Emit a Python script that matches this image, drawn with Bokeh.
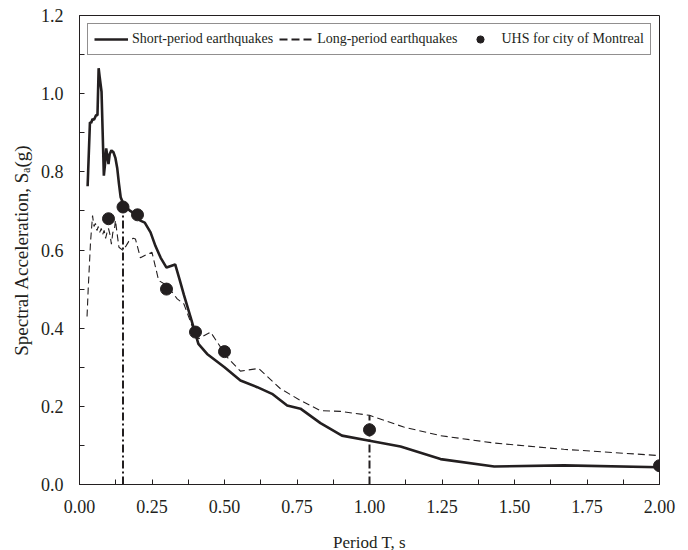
from bokeh.plotting import figure
from bokeh.models import (Range1d, FixedTicker, NumeralTickFormatter,
                          Legend, LegendItem)
from bokeh.embed import file_html
from bokeh.resources import INLINE

# ---------------- data ----------------
short_T = [0.028, 0.036, 0.040, 0.045, 0.050, 0.057, 0.062, 0.066, 0.070, 0.076,
           0.084, 0.088, 0.092, 0.096, 0.100, 0.104, 0.110, 0.117, 0.124, 0.130,
           0.136, 0.142, 0.150, 0.160, 0.175, 0.195, 0.210, 0.225, 0.245, 0.262,
           0.280, 0.300, 0.330, 0.345, 0.360, 0.383, 0.400, 0.410, 0.440, 0.500,
           0.555, 0.613, 0.664, 0.716, 0.762, 0.831, 0.905, 1.000, 1.107, 1.245,
           1.430, 1.670, 2.000]
short_Sa = [0.763, 0.927, 0.925, 0.935, 0.933, 0.945, 0.945, 1.065, 1.040, 1.005,
            0.790, 0.820, 0.860, 0.840, 0.820, 0.845, 0.855, 0.850, 0.835, 0.810,
            0.770, 0.735, 0.720, 0.710, 0.700, 0.690, 0.675, 0.670, 0.645, 0.610,
            0.580, 0.555, 0.563, 0.525, 0.485, 0.428, 0.385, 0.360, 0.334, 0.300,
            0.266, 0.249, 0.232, 0.202, 0.194, 0.157, 0.125, 0.112, 0.097, 0.065,
            0.046, 0.049, 0.044]

long_T = [0.026, 0.030, 0.038, 0.045, 0.050, 0.055, 0.060, 0.065, 0.070, 0.075,
          0.080, 0.085, 0.090, 0.095, 0.100, 0.105, 0.110, 0.115, 0.120, 0.124,
          0.130, 0.136, 0.150, 0.160, 0.170, 0.185, 0.193, 0.210, 0.230, 0.250,
          0.273, 0.302, 0.337, 0.360, 0.394, 0.411, 0.452, 0.509, 0.555, 0.618,
          0.693, 0.762, 0.831, 0.900, 1.000, 1.118, 1.245, 1.430, 1.670, 2.000]
long_Sa = [0.430, 0.500, 0.620, 0.688, 0.660, 0.668, 0.650, 0.660, 0.645, 0.655,
           0.640, 0.650, 0.630, 0.645, 0.655, 0.640, 0.615, 0.645, 0.650, 0.676,
           0.640, 0.607, 0.599, 0.610, 0.622, 0.630, 0.628, 0.580, 0.588, 0.594,
           0.522, 0.509, 0.475, 0.462, 0.394, 0.373, 0.390, 0.326, 0.290, 0.297,
           0.245, 0.215, 0.189, 0.187, 0.177, 0.147, 0.125, 0.106, 0.090, 0.074]

uhs_T = [0.10, 0.15, 0.20, 0.30, 0.40, 0.50, 1.00, 2.00]
uhs_Sa = [0.680, 0.710, 0.690, 0.500, 0.390, 0.340, 0.140, 0.048]

marker_T = [0.15, 1.00]
marker_base = [0.0, 0.0]
marker_top = [0.714, 0.177]

x_major_ticks = [0.0, 0.25, 0.5, 0.75, 1.0, 1.25, 1.5, 1.75, 2.0]
x_minor_ticks = [0.125, 0.375, 0.625, 0.875, 1.125, 1.375, 1.625, 1.875]
y_major_ticks = [0.0, 0.2, 0.4, 0.6, 0.8, 1.0, 1.2]
y_minor_ticks = [0.1, 0.3, 0.5, 0.7, 0.9, 1.1]

FONT = "Liberation Serif"
INK = "#231f20"

# ---------------- figure ----------------
p = figure(frame_width=580, frame_height=469,
           x_range=Range1d(0, 2), y_range=Range1d(0, 1.2),
           output_backend="svg", toolbar_location=None,
           min_border_left=79, min_border_right=29,
           min_border_top=15, min_border_bottom=66)
p.background_fill_color = "white"
p.border_fill_color = "white"
p.outline_line_color = INK
p.outline_line_width = 1
p.xgrid.visible = False
p.ygrid.visible = False

p.xaxis.ticker = FixedTicker(ticks=x_major_ticks, minor_ticks=x_minor_ticks)
p.yaxis.ticker = FixedTicker(ticks=y_major_ticks, minor_ticks=y_minor_ticks)
p.xaxis.formatter = NumeralTickFormatter(format="0.00")
p.yaxis.formatter = NumeralTickFormatter(format="0.0")

for ax in (p.xaxis[0], p.yaxis[0]):
    ax.axis_line_color = INK
    ax.major_tick_line_color = INK
    ax.minor_tick_line_color = INK
    ax.major_tick_in = 5
    ax.major_tick_out = 0
    ax.minor_tick_in = 5
    ax.minor_tick_out = 0
    ax.major_label_text_font = FONT
    ax.major_label_text_font_size = "18px"
    ax.major_label_text_color = INK
    ax.axis_label_text_font = FONT
    ax.axis_label_text_font_style = "normal"
    ax.axis_label_text_color = INK

p.xaxis.major_label_standoff = 15
p.yaxis.major_label_standoff = 16
p.xaxis.axis_label = "Period T, s"
p.xaxis.axis_label_text_font_size = "17px"
p.xaxis.axis_label_standoff = 17
p.yaxis.axis_label = "Spectral Acceleration, S\u2090(g)"
p.yaxis.axis_label_text_font_size = "19px"
p.yaxis.axis_label_standoff = 6

# ---------------- series ----------------
r_long = p.line(long_T, long_Sa, line_color=INK, line_width=1.1, line_dash="7 4")
r_short = p.line(short_T, short_Sa, line_color=INK, line_width=2.6)
p.segment(x0=marker_T, y0=marker_base, x1=marker_T, y1=marker_top,
          line_color=INK, line_width=2, line_dash="8 3 2 3")
r_uhs = p.scatter(uhs_T, uhs_Sa, size=12, fill_color=INK, line_color=INK)

# legend proxy (no visible data) with a bolder dash, like the reference's key
nan = float("nan")
r_long_key = p.line([nan], [nan], line_color=INK, line_width=2, line_dash="8 4")

legend = Legend(items=[
    LegendItem(label="Short-period earthquakes", renderers=[r_short]),
    LegendItem(label="Long-period earthquakes", renderers=[r_long_key]),
    LegendItem(label="UHS for city of Montreal", renderers=[r_uhs]),
], orientation="horizontal", location="top_left")
legend.margin = 8
legend.padding = 6
legend.spacing = 6
legend.glyph_width = 34
legend.glyph_height = 18
legend.label_standoff = 4
legend.label_height = 17
legend.label_text_font = FONT
legend.label_text_font_size = "14px"
legend.label_text_color = INK
legend.border_line_color = INK
legend.border_line_width = 1
legend.background_fill_color = "white"
legend.background_fill_alpha = 1
p.add_layout(legend)

open("out.html", "w").write(file_html(p, INLINE))
